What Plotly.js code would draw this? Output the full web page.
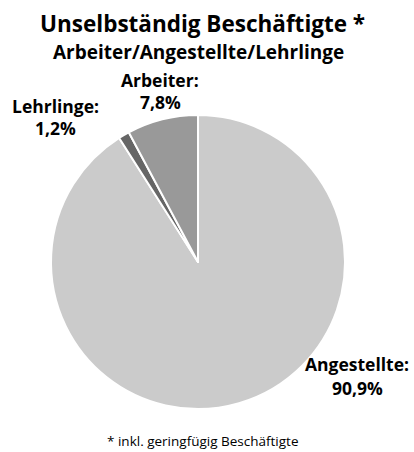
<!DOCTYPE html>
<html>
<head>
<meta charset="utf-8">
<script src="https://cdn.plot.ly/plotly-3.0.1.min.js"></script>
<style>html,body{margin:0;padding:0;background:#fff;}#chart{width:414px;height:452px;}</style>
</head>
<body>
<div id="chart"></div>
<script>
const categories = ["Angestellte", "Lehrlinge", "Arbeiter"];
const shares = [90.9, 1.2, 7.8];
const sliceColors = ["#cbcbcb", "#666666", "#999999"];
const titleText = "Unselbständig Beschäftigte *";
const subtitleText = "Arbeiter/Angestellte/Lehrlinge";
const footnoteText = "* inkl. geringfügig Beschäftigte";

const W = 414, H = 452;
const FONT = "Open Sans, sans-serif";
function px(x){return x/W;}
function py(y){return 1 - y/H;}
function fmt(v){return v.toFixed(1).replace(".", ",") + "%";}

// label anchor positions (px): [centerX, line1Y, line2Y]
const labelPos = {
  "Arbeiter": [160, 80, 102],
  "Lehrlinge": [55, 106, 128],
  "Angestellte": [357, 364, 388]
};

const annotations = [
  {text: "<b>" + titleText + "</b>", x: px(202), y: py(23), font: {size: 22.5, color: "#000", family: FONT}},
  {text: "<b>" + subtitleText + "</b>", x: px(198), y: py(51.5), font: {size: 19, color: "#000", family: FONT}},
  {text: footnoteText, x: px(203), y: py(441), font: {size: 13.5, color: "#000", family: FONT}}
];
categories.forEach((c, i) => {
  const p = labelPos[c];
  annotations.push({text: "<b>" + c + ":</b>", x: px(p[0]), y: py(p[1]), font: {size: 17.5, color: "#000", family: FONT}});
  annotations.push({text: "<b>" + fmt(shares[i]) + "</b>", x: px(p[0]), y: py(p[2]), font: {size: 17.5, color: "#000", family: FONT}});
});
annotations.forEach(a => { a.xref = "paper"; a.yref = "paper"; a.showarrow = false; a.xanchor = "center"; a.yanchor = "middle"; a.borderpad = 0; });

const data = [{
  type: "pie",
  labels: categories,
  values: shares,
  sort: false,
  direction: "clockwise",
  rotation: 0,
  textinfo: "none",
  hoverinfo: "label+percent",
  marker: {colors: sliceColors, line: {color: "#ffffff", width: 2}},
  domain: {x: [px(51), px(345)], y: [py(409), py(115)]},
  showlegend: false
}];

const layout = {
  width: W, height: H,
  margin: {l: 0, r: 0, t: 0, b: 0},
  paper_bgcolor: "#ffffff",
  showlegend: false,
  annotations: annotations
};

Plotly.newPlot("chart", data, layout, {displayModeBar: false, staticPlot: true});
</script>
</body>
</html>
